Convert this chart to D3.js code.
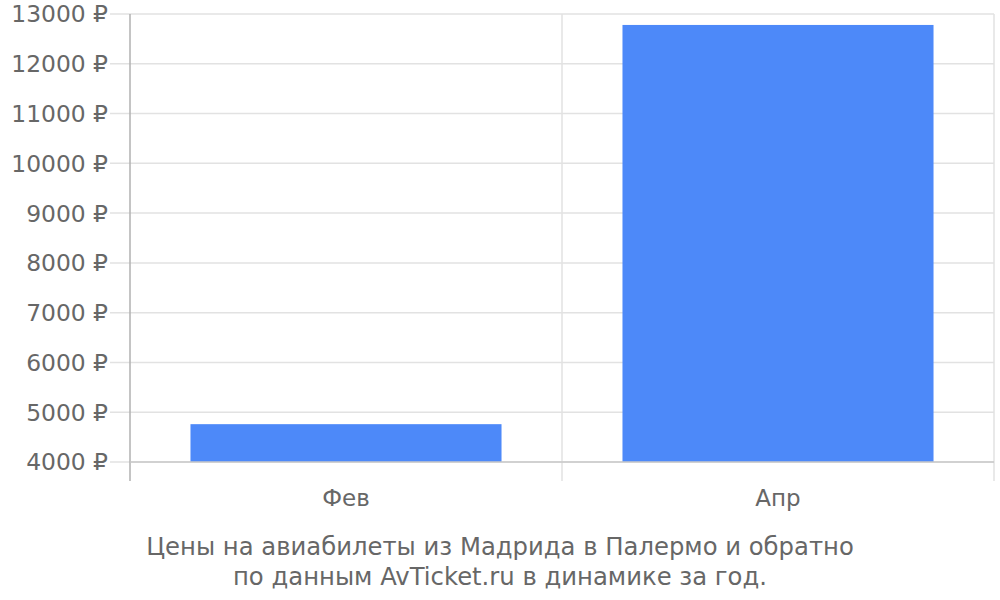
<!DOCTYPE html>
<html><head><meta charset="utf-8">
<script src="https://cdn.jsdelivr.net/npm/d3@7"></script>
<style>body{margin:0;background:#fff}svg{display:block}text{font-family:"DejaVu Sans",sans-serif;fill:#676767}</style>
</head><body><svg id="c" width="1000" height="600"></svg>
<script>
const categories = ["Фев", "Апр"];
const prices = [4760, 12780];
const yTicks = [4000, 5000, 6000, 7000, 8000, 9000, 10000, 11000, 12000, 13000];
const titleLines = ["Цены на авиабилеты из Мадрида в Палермо и обратно", "по данным AvTicket.ru в динамике за год."];

const svg = d3.select("#c");
const L = 130, R = 994, T = 14, B = 462;
const x = d3.scaleBand().domain(categories).range([L, R]).paddingInner(0.28).paddingOuter(0.14);
const y = d3.scaleLinear().domain([4000, 13000]).range([B, T]);

// horizontal gridlines
svg.append("g").selectAll("line").data(yTicks).join("line")
  .attr("x1", 110).attr("x2", R).attr("y1", d => y(d)).attr("y2", d => y(d))
  .attr("stroke", "#e2e2e2").attr("stroke-width", 1.5);
// vertical gridlines at band boundaries
const bounds = categories.map(c => x(c) - x.step() * x.paddingOuter()).concat([R]);
svg.append("g").selectAll("line").data(bounds.slice(1)).join("line")
  .attr("x1", d => d).attr("x2", d => d).attr("y1", T).attr("y2", 481)
  .attr("stroke", "#e2e2e2").attr("stroke-width", 1.5);

// bars
svg.append("g").selectAll("rect").data(prices).join("rect")
  .attr("x", (d, i) => x(categories[i])).attr("width", x.bandwidth())
  .attr("y", d => y(d)).attr("height", d => y(4000) - y(d))
  .attr("fill", "#4d89f9");

// axes lines
svg.append("line").attr("x1", L).attr("x2", L).attr("y1", T).attr("y2", 481).attr("stroke", "#b0b0b0").attr("stroke-width", 1.5);
svg.append("line").attr("x1", L).attr("x2", R).attr("y1", B).attr("y2", B).attr("stroke", "#c8c8c8").attr("stroke-width", 1.5);

// y labels
svg.append("g").selectAll("text").data(yTicks).join("text")
  .attr("x", 108).attr("y", d => y(d)).attr("dy", "0.36em")
  .attr("text-anchor", "end").style("font-size", "23.4px")
  .text(d => d + " ₽");

// x labels
svg.append("g").selectAll("text").data(categories).join("text")
  .attr("x", d => x(d) + x.bandwidth() / 2).attr("y", 506)
  .attr("text-anchor", "middle").style("font-size", "23px")
  .text(d => d);

// title
svg.append("g").selectAll("text").data(titleLines).join("text")
  .attr("x", 500).attr("y", (d, i) => 555 + i * 30)
  .attr("text-anchor", "middle").style("font-size", "24.3px")
  .text(d => d);
</script></body></html>
